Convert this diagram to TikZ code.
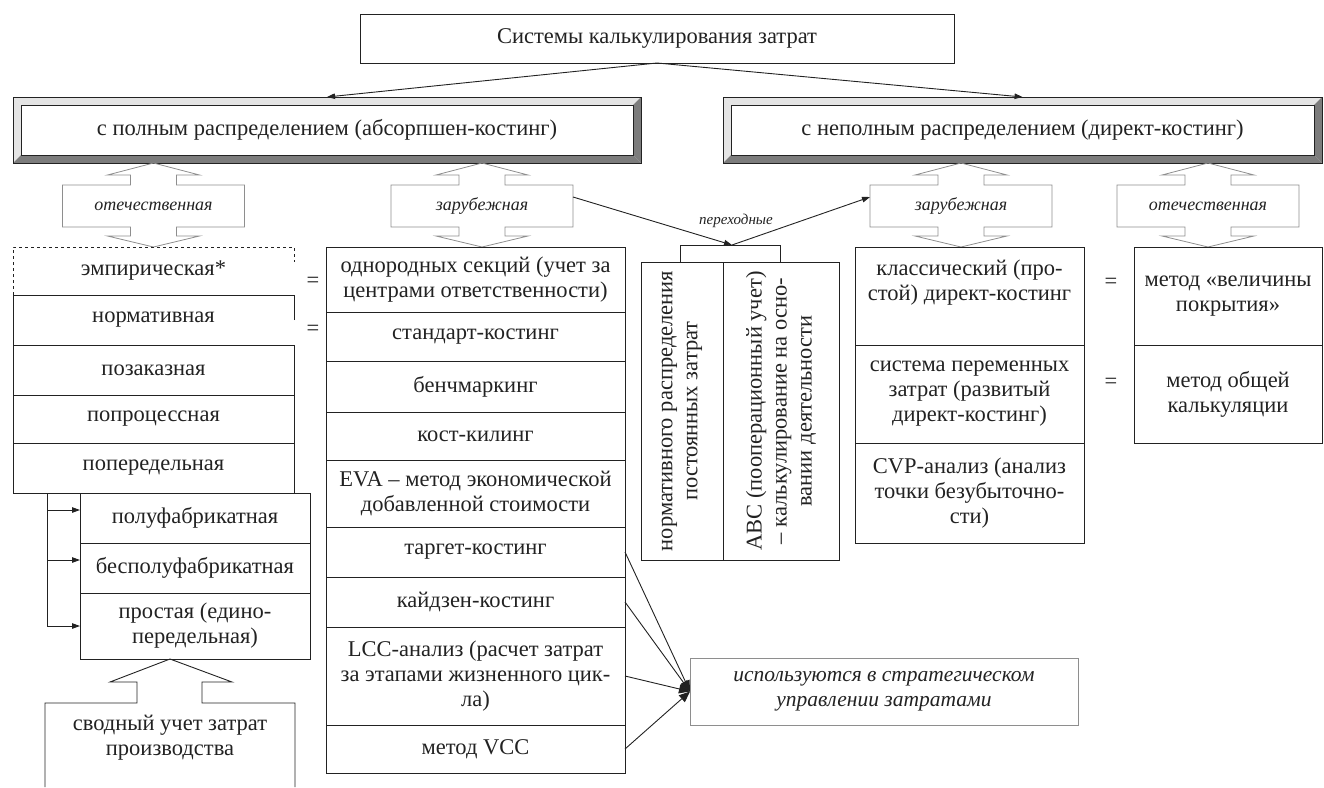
\documentclass[tikz,border=0pt]{standalone}
\usepackage{fontspec}
\setmainfont{Liberation Serif}
\usetikzlibrary{arrows.meta,positioning,calc}
\definecolor{inkx}{HTML}{222222}
\definecolor{greyx}{HTML}{8E8E8E}
\definecolor{bevlight}{HTML}{E4E4E4}
\definecolor{bevdark}{HTML}{7C7C7C}
\newcommand{\cellfont}{\fontsize{22.5}{25}\selectfont}
\newcommand{\lblfont}{\fontsize{18}{20}\selectfont\itshape}
\newcommand{\smallit}{\fontsize{15}{17}\selectfont\itshape}
\newcommand{\stratfont}{\fontsize{21.5}{25}\selectfont\itshape}
\tikzset{
  inkline/.style={draw=inkx,line width=0.9pt},
  cell/.style={draw=inkx,line width=0.9pt,align=center,inner sep=1pt,outer sep=0pt,font=\cellfont,text=inkx},
  bare/.style={cell,draw=none},
  hdr/.style={cell,fill=white,minimum height=66pt},
  vert/.style={cell,rotate=90,minimum width=298pt},
  blk/.style={draw=greyx,line width=0.8pt},
  lbl/.style={font=\lblfont,text=inkx,minimum width=182pt,minimum height=42pt,inner sep=0pt,outer sep=0pt},
  ar/.style={-{Triangle[length=8pt,width=5.5pt]},line width=0.9pt,inkx},
  arbig/.style={-{Triangle[length=11pt,width=9pt]},line width=0.9pt,inkx}
}
\newcommand{\hdrbevel}[1]{%
  \fill[bevlight] (#1.north west) -- (#1.north east) -- ($(#1.north east)+(-8pt,-8pt)$) -- ($(#1.north west)+(8pt,-8pt)$) -- cycle;
  \fill[bevlight] (#1.north west) -- ($(#1.north west)+(8pt,-8pt)$) -- ($(#1.south west)+(8pt,8pt)$) -- (#1.south west) -- cycle;
  \fill[bevdark] (#1.south west) -- ($(#1.south west)+(8pt,8pt)$) -- ($(#1.south east)+(-8pt,8pt)$) -- (#1.south east) -- cycle;
  \fill[bevdark] (#1.south east) -- ($(#1.south east)+(-8pt,8pt)$) -- ($(#1.north east)+(-8pt,-8pt)$) -- (#1.north east) -- cycle;
  \draw[inkline] (#1.north west) rectangle (#1.south east)
    ($(#1.north west)+(8pt,-8pt)$) rectangle ($(#1.south east)+(-8pt,8pt)$);
}

\begin{document}
\begin{tikzpicture}[x=1pt,y=-1pt]
\useasboundingbox (0,0) rectangle (1324,787);

\node[cell,anchor=north,minimum width=594pt,minimum height=49pt] (sys) at (657,14) {Системы калькулирования затрат};
\node[hdr,anchor=north,minimum width=628pt] (absH) at (327,97) {с полным распределением (абсорпшен-костинг)};
\node[hdr,anchor=north,minimum width=599pt] (dirH) at (1022.5,97) {с неполным распределением (директ-костинг)};
\hdrbevel{absH}
\hdrbevel{dirH}
\draw[ar] (sys.south) -- (absH.north);
\draw[ar] (sys.south) -- (dirH.north);

\foreach \nm/\cx/\txt in {domL/153.5/отечественная, forL/482/зарубежная, forR/961/зарубежная, domR/1208/отечественная}{
  \draw[blk] (\cx,163) -- (\cx+46,175) -- (\cx+23,175) -- (\cx+23,185) -- (\cx+91,185) -- (\cx+91,227)
    -- (\cx+23,227) -- (\cx+23,236) -- (\cx+46,236) -- (\cx,247) -- (\cx-46,236) -- (\cx-23,236)
    -- (\cx-23,227) -- (\cx-91,227) -- (\cx-91,185) -- (\cx-23,185) -- (\cx-23,175) -- (\cx-46,175) -- cycle;
  \node[lbl] (\nm) at (\cx,206) {\txt};
}

\node[bare,anchor=north,minimum width=281pt,minimum height=48pt] (emp) at (153.5,247) {эмпирическая*};
\node[bare,below=0pt of emp,minimum width=281pt,minimum height=50pt] (norm) {нормативная};
\node[cell,below=0pt of norm,minimum width=281pt,minimum height=50pt] (poz) {позаказная};
\node[cell,below=0pt of poz,minimum width=281pt,minimum height=48pt] (popr) {попроцессная};
\node[cell,below=0pt of popr,minimum width=281pt,minimum height=50pt] (pope) {попередельная};
\draw[inkline,dashed] (emp.south west) -- (emp.north west) -- (emp.north east) -- ++(0,15);
\draw[inkline] (norm.north east) ++(0,25) -- (norm.north east) -- (norm.north west) -- (norm.south west);

\node[cell,anchor=north,minimum width=230pt,minimum height=50pt] (polu) at (195,493) {полуфабрикатная};
\node[cell,below=0pt of polu,minimum width=230pt,minimum height=50pt] (bespol) {бесполуфабрикатная};
\node[cell,below=0pt of bespol,minimum width=230pt,minimum height=66pt] (prost) {простая (едино-\\передельная)};
\coordinate (stub) at (47,493);
\draw[ar] (stub) |- ([yshift=8pt]polu.west);
\draw[ar] (stub) |- ([yshift=8pt]bespol.west);
\draw[ar] (stub) |- (prost.west);

\node[bare] (svod) at (170,738) {сводный учет затрат\\производства};
\draw[inkline] (45,787) -- (45,703) -- (137,703) -- (137,682) -- (110,682) -- (170,659)
  -- (232,682) -- (202,682) -- (202,703) -- (295,703) -- (295,787);

\node[cell,anchor=north,minimum width=299pt,minimum height=65pt] (homog) at (475.5,247) {однородных секций (учет за\\центрами ответственности)};
\node[cell,below=0pt of homog,minimum width=299pt,minimum height=49pt] (stand) {стандарт-костинг};
\node[cell,below=0pt of stand,minimum width=299pt,minimum height=51pt] (bench) {бенчмаркинг};
\node[cell,below=0pt of bench,minimum width=299pt,minimum height=48pt] (kill) {кост-килинг};
\node[cell,below=0pt of kill,minimum width=299pt,minimum height=67pt] (eva) {EVA – метод экономической\\добавленной стоимости};
\node[cell,below=0pt of eva,minimum width=299pt,minimum height=50pt] (targ) {таргет-костинг};
\node[cell,below=0pt of targ,minimum width=299pt,minimum height=50pt] (kaiz) {кайдзен-костинг};
\node[cell,below=0pt of kaiz,minimum width=299pt,minimum height=98pt] (lcc) {LCC-анализ (расчет затрат\\за этапами жизненного цик-\\ла)};
\node[cell,below=0pt of lcc,minimum width=299pt,minimum height=48pt] (vcc) {метод VCC};

\node[bare] (eqA) at (313,282) {=};
\node[bare] (eqB) at (313,330) {=};

\node[cell,draw=greyx,font=\stratfont,anchor=west,minimum width=388pt,minimum height=67pt] (strat) at (690,691.5) {используются в стратегическом\\управлении затратами};
\foreach \src in {targ,kaiz,lcc,vcc}
  \draw[arbig] (\src.east) -- (strat.west);

\node[vert,minimum height=82pt] (normdist) at (682,411) {нормативного распределения\\постоянных затрат};
\node[vert,minimum height=116pt] (abc) at (781,411) {АВС (пооперационный учет)\\– калькулирование на осно-\\вании деятельности};
\coordinate (brk) at (732,245);
\draw[inkline] (680,262) |- (780,245) -- (780,262);
\node[font=\smallit,text=inkx] (trans) at (736,221) {переходные};
\draw[ar] ([yshift=9pt]forL.east) -- (brk);
\draw[ar] (brk) -- ([yshift=9pt]forR.west);

\node[cell,anchor=north,minimum width=229pt,minimum height=98pt] (klass) at (969.5,247) {классический (про-\\стой) директ-костинг\\\strut};
\node[cell,below=0pt of klass,minimum width=229pt,minimum height=98pt] (perem) {система переменных\\затрат (развитый\\директ-костинг)};
\node[cell,below=0pt of perem,minimum width=229pt,minimum height=100pt] (cvp) {CVP-анализ (анализ\\точки безубыточно-\\сти)};

\node[cell,anchor=north,minimum width=188pt,minimum height=98pt] (velich) at (1228,247) {метод «величины\\покрытия»};
\node[cell,below=0pt of velich,minimum width=188pt,minimum height=98pt] (obsh) {метод общей\\калькуляции};
\node[bare] (eqC) at (1111,283) {=};
\node[bare] (eqD) at (1111,383) {=};
\end{tikzpicture}
\end{document}
